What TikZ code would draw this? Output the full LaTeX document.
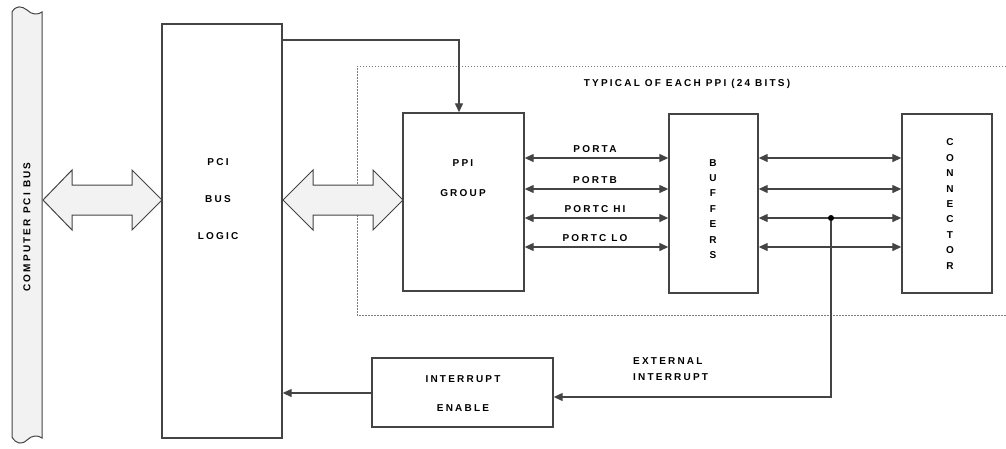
\documentclass[tikz,border=0pt]{standalone}
\usepackage{fontspec}
\setmainfont{Liberation Sans}
\newfontfamily\lab[LetterSpace=22]{Liberation Sans}
\usetikzlibrary{arrows.meta}
\definecolor{ln}{HTML}{444444}
\definecolor{fillg}{HTML}{F2F2F2}
\begin{document}
\begin{tikzpicture}[x=1pt,y=-1pt,
 box/.style={draw=ln,line width=1.4pt,fill=white,inner sep=0pt},
 txt/.style={font=\lab\bfseries\fontsize{10}{11}\selectfont,text=black,inner sep=0pt},
 vtxt/.style={font=\lab\bfseries\fontsize{10}{15.4}\selectfont,text=black,inner sep=0pt,align=center},
 conn/.style={draw=ln,line width=1.3pt},
 tip/.style={-{Triangle[length=9pt,width=8pt]}},
 dtip/.style={{Triangle[length=9pt,width=8pt]}-{Triangle[length=9pt,width=8pt]}},
 fat/.style={draw=ln,line width=1pt,fill=fillg,line join=miter}]
\useasboundingbox (0,0) rectangle (1006,448);
% computer PCI bus
\draw[fat] (12,12) .. controls (16,5) and (22,6) .. (27,10) .. controls (32,15) and (38,15) .. (42,12)
  -- (42,438) .. controls (38,435) and (32,435) .. (27,440) .. controls (22,445) and (16,444) .. (12,437) -- cycle;
\node[txt,rotate=90] (busl) at (27,227) {COMPUTER PCI BUS};
% boxes
\node[box,minimum width=120pt,minimum height=414pt] (pci) at (222,231) {};
\draw[draw=ln!70,line width=1pt,dash pattern=on 1.5pt off 1.5pt] (1006,66) -- (357,66) -- (357,315) -- (1006,315);
\node[box,minimum width=121pt,minimum height=178pt] (ppi) at (463.5,202) {};
\node[box,minimum width=89pt,minimum height=179pt] (buf) at (713.5,203.5) {};
\node[box,minimum width=90pt,minimum height=179pt] (con) at (947,203.5) {};
\node[box,minimum width=181pt,minimum height=69pt] (int) at (462.5,392.5) {};
% texts
\node[txt] (t1) at (218,162) {PCI};
\node[txt] (t2) at (218,199) {BUS};
\node[txt] (t3) at (218,236) {LOGIC};
\node[txt] (t4) at (463,163) {PPI};
\node[txt] (t5) at (463,193) {GROUP};
\node[vtxt] (t6) at (713,209) {B\\U\\F\\F\\E\\R\\S};
\node[vtxt] (t7) at (950,204) {C\\O\\N\\N\\E\\C\\T\\O\\R};
\node[txt] (t8) at (463,379) {INTERRUPT};
\node[txt] (t9) at (463,408) {ENABLE};
\node[txt] (typ) at (687,84) {TYPICAL OF EACH PPI (24 BITS)};
\node[txt,anchor=west] (ext1) at (633,361) {EXTERNAL};
\node[txt,anchor=west] (ext2) at (633,377) {INTERRUPT};
% fat arrows
\draw[fat] (43,200) -- (72,170) -- (72,185) -- (132,185) -- (132,170) -- (162,200) -- (132,230) -- (132,215) -- (72,215) -- (72,230) -- cycle;
\draw[fat] (283,200) -- (313,170) -- (313,185) -- (373,185) -- (373,170) -- (403,200) -- (373,230) -- (373,215) -- (313,215) -- (313,230) -- cycle;
% PCI to PPI
\draw[conn,tip] (pci.east |- 0,40) -| ([xshift=-4.5pt]ppi.north);
% ports
\foreach \y/\t in {158/PORTA,189/PORTB,218/PORTC HI,247/PORTC LO}{
  \draw[conn,dtip] (ppi.east |- 0,\y) -- (buf.west |- 0,\y);
  \node[txt] at (595,\y-9) {\t};
  \draw[conn,dtip] (buf.east |- 0,\y) -- (con.west |- 0,\y);
}
\node[circle,fill=black,inner sep=0pt,minimum size=6pt] (j) at (831,218) {};
\draw[conn,tip] (j) |- ([yshift=-4.5pt]int.east);
\draw[conn,tip] ([yshift=-0.5pt]int.west) -- ([yshift=-0.5pt]int.west -| pci.east);
\end{tikzpicture}
\end{document}
